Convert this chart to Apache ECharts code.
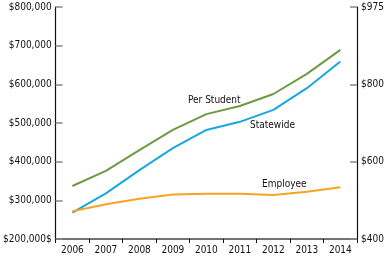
<!DOCTYPE html>
<html><head><meta charset="utf-8">
<script src="https://cdn.jsdelivr.net/npm/echarts@6/dist/echarts.min.js"></script>
<style>html,body{margin:0;padding:0;background:#fff}#c{width:387px;height:259px}</style>
</head><body><div id="c"></div>
<script>
var years = ['2006','2007','2008','2009','2010','2011','2012','2013','2014'];
var perStudent = [337000, 376000, 430000, 482000, 523000, 544000, 575000, 627000, 689000];
var statewide = [268000, 318000, 378000, 435000, 482000, 503000, 534000, 590000, 659000];
var employee = [272000, 290000, 304000, 315000, 317000, 317000, 314000, 322000, 334000];
var leftTickLabels = ['$200,000$', '$300,000', '$400,000', '$500,000', '$600,000', '$700,000', '$800,000'];
var rightTickLabels = ['$400', '$600', '$800', '$975'];
var seriesNames = ['Per Student', 'Statewide', 'Employee'];

var FONT = '"Liberation Sans Narrow", "DejaVu Sans Condensed", sans-serif';
var chart = echarts.init(document.getElementById('c'), null, {renderer: 'canvas'});
chart.setOption({
  animation: false,
  grid: {left: 44, right: 27, top: 7, bottom: 20, containLabel: false},
  xAxis: {
    type: 'category', data: years, boundaryGap: true,
    axisLine: {lineStyle: {color: '#444', width: 1.5}},
    axisTick: {show: true, inside: false, length: 4, lineStyle: {color: '#111', width: 1}},
    axisLabel: {color: '#111', fontFamily: FONT, fontSize: 10, margin: 6},
    splitLine: {show: false}
  },
  yAxis: [{
    type: 'value', min: 200000, max: 800000, interval: 100000, position: 'left',
    axisLine: {show: true, lineStyle: {color: '#111', width: 1.2}},
    axisTick: {show: true, inside: true, length: 7, lineStyle: {color: '#888', width: 1.5}},
    axisLabel: {color: '#111', fontFamily: FONT, fontSize: 10, margin: 4,
      formatter: function (v) { return leftTickLabels[Math.round((v - 200000) / 100000)]; }},
    splitLine: {show: false}
  }, {
    type: 'value', min: 400, max: 1000, interval: 200, position: 'right',
    axisLine: {show: true, lineStyle: {color: '#111', width: 1.2}},
    axisTick: {show: true, inside: true, length: 7, lineStyle: {color: '#888', width: 1.5}},
    axisLabel: {color: '#111', fontFamily: FONT, fontSize: 10, margin: 4,
      formatter: function (v) { return rightTickLabels[Math.round((v - 400) / 200)]; }},
    splitLine: {show: false}
  }],
  series: [
    {name: seriesNames[0], type: 'line', data: perStudent, symbol: 'none', lineStyle: {color: '#6e9a43', width: 2}},
    {name: seriesNames[1], type: 'line', data: statewide, symbol: 'none', lineStyle: {color: '#19a8dd', width: 2}},
    {name: seriesNames[2], type: 'line', data: employee, symbol: 'none', lineStyle: {color: '#f5a51f', width: 2}}
  ],
  graphic: [
    {type: 'text', left: 188, top: 95, style: {text: seriesNames[0], fill: '#111', font: '10px ' + FONT}},
    {type: 'text', left: 250, top: 120, style: {text: seriesNames[1], fill: '#111', font: '10px ' + FONT}},
    {type: 'text', left: 262, top: 179, style: {text: seriesNames[2], fill: '#111', font: '10px ' + FONT}}
  ]
});
</script></body></html>
